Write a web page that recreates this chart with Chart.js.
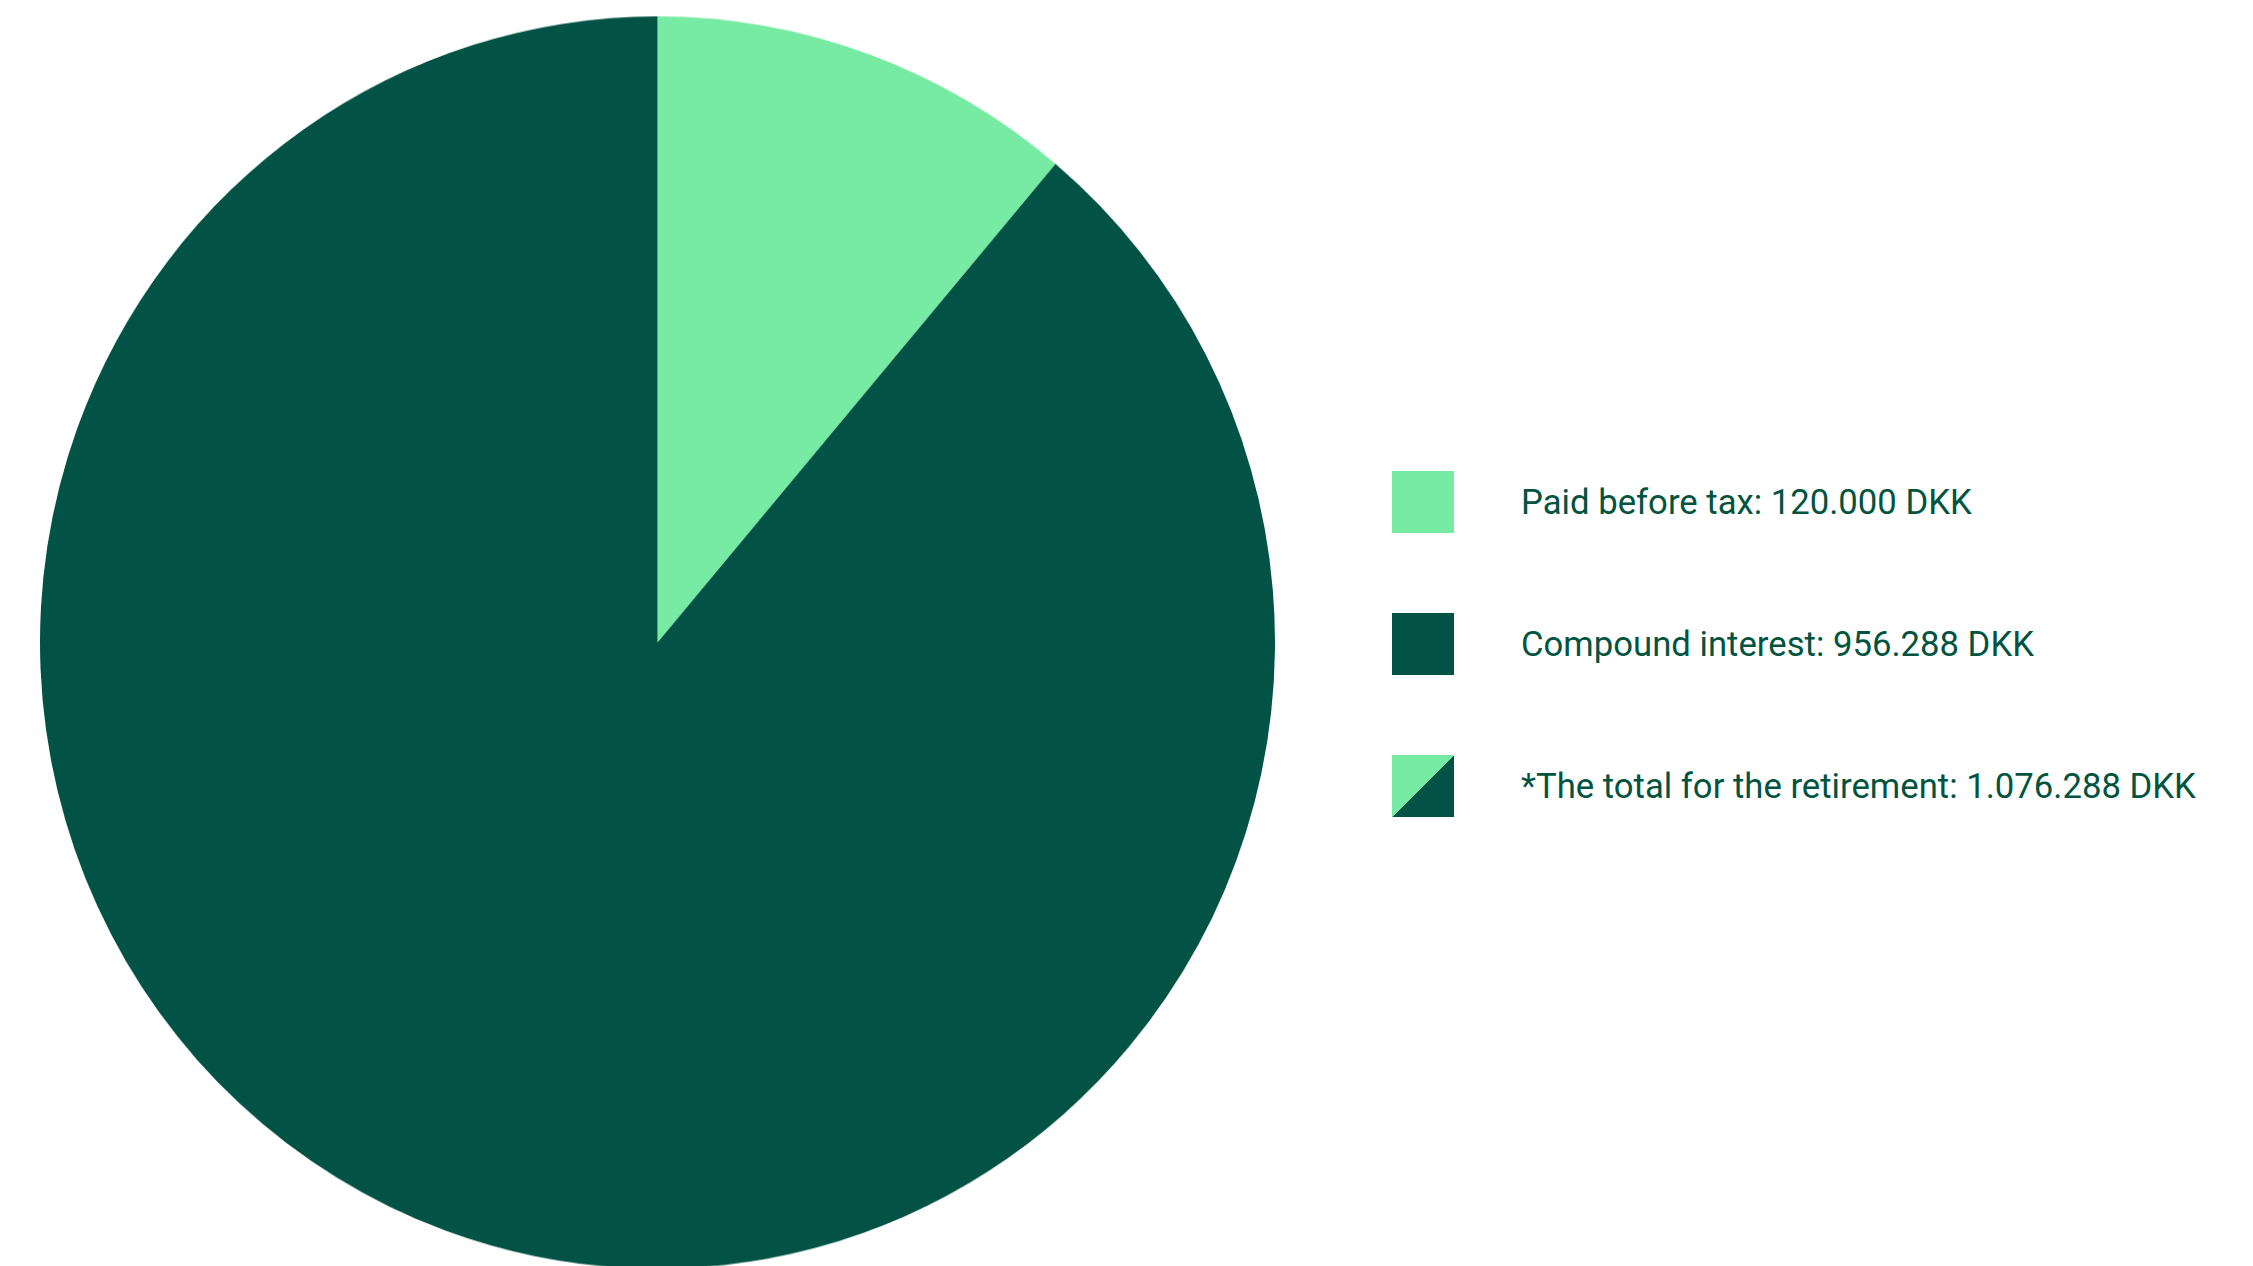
<!DOCTYPE html>
<html>
<head>
<meta charset="utf-8">
<script src="https://cdn.jsdelivr.net/npm/chart.js@4"></script>
<style>
  html, body { margin: 0; padding: 0; background: #fff; }
  body { width: 2253px; height: 1266px; position: relative; overflow: hidden; }
  #pieBox { position: absolute; left: 40px; top: 25px; width: 1235px; height: 1235px; transform: scaleY(1.014); transform-origin: 50% 50%; }
  #legend { position: absolute; left: 1392px; top: 471px; font-family: Roboto, sans-serif; color: #02533f; }
  .row { display: flex; align-items: center; height: 62px; margin-bottom: 80px; }
  .box { width: 62px; height: 62px; flex: none; }
  .txt { margin-left: 67px; font-size: 34.7px; white-space: nowrap; }
</style>
</head>
<body>
<div id="pieBox"><canvas id="pie"></canvas></div>
<div id="legend"></div>
<script>
// data
const labels = ['Paid before tax', 'Compound interest'];
const values = [120000, 956288];
const colors = ['#77eba3', '#025345'];
const totalLabel = '*The total for the retirement';

// tal med punktum som tusindtalsseparator
function fmt(n) {
  return n.toString().replace(/\B(?=(\d{3})+(?!\d))/g, '.') + ' DKK';
}

const ctx = document.getElementById('pie').getContext('2d');
const chart = new Chart(ctx, {
  type: 'pie',
  data: {
    labels: labels,
    datasets: [{
      data: values,
      backgroundColor: colors,
      borderWidth: 0
    }]
  },
  options: {
    responsive: true,
    maintainAspectRatio: false,
    animation: false,
    layout: { padding: 0 },
    plugins: {
      legend: { display: false },
      tooltip: { enabled: false }
    }
  }
});

// legend i html
const legend = document.getElementById('legend');
labels.forEach((l, i) => {
  legend.innerHTML += `<div class="row"><div class="box" style="background:${colors[i]}"></div><div class="txt">${l}: ${fmt(values[i])}</div></div>`;
});
const total = values.reduce((a, b) => a + b, 0);
legend.innerHTML += `<div class="row"><div class="box" style="background:linear-gradient(to bottom right, ${colors[0]} 50%, ${colors[1]} 50%)"></div><div class="txt">${totalLabel}: ${fmt(total)}</div></div>`;
</script>
</body>
</html>
